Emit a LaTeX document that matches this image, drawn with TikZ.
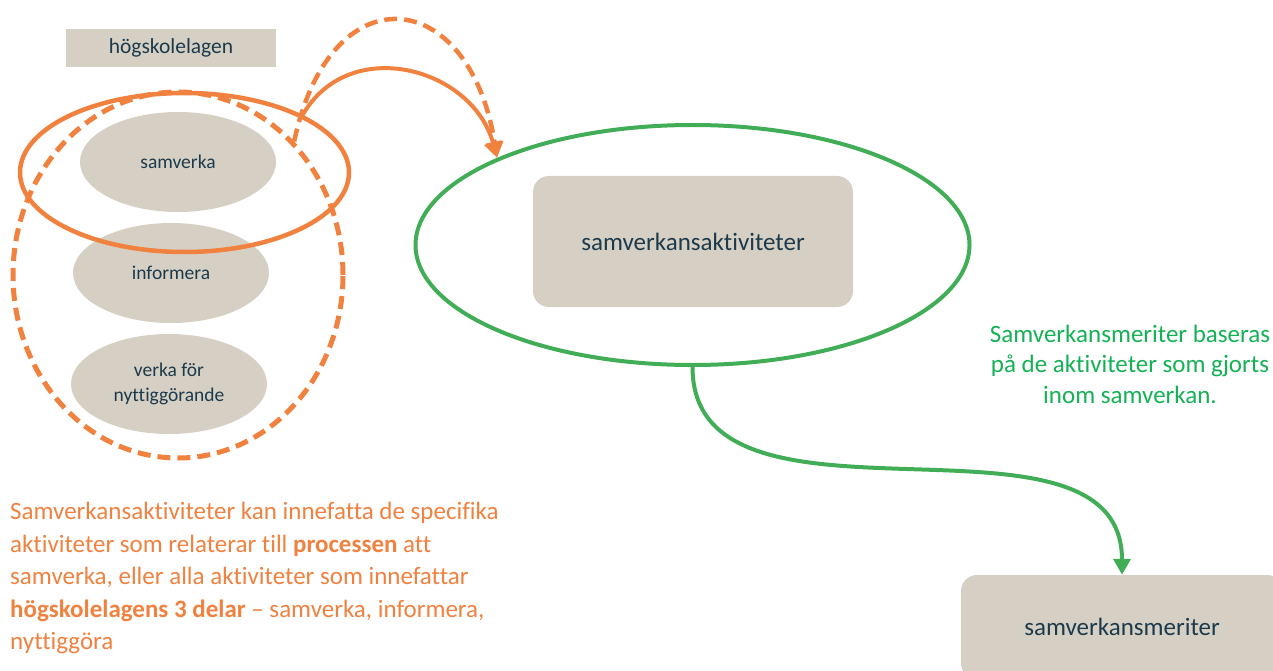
\documentclass[tikz,border=0pt]{standalone}
\usepackage{fontspec}
\setmainfont{Carlito}[Ligatures=NoCommon]
\usetikzlibrary{shapes.geometric,arrows.meta}
\definecolor{orng}{HTML}{F0813F}
\definecolor{grnline}{HTML}{41AD56}
\definecolor{grntext}{HTML}{14B155}
\definecolor{beige}{HTML}{D6D0C4}
\definecolor{darktext}{HTML}{1C3A4C}
\begin{document}
\begin{tikzpicture}[x=1pt, y=1pt, line join=round, >={Triangle[width=17pt,length=16pt]},
	boxfill/.style={fill=beige, text=darktext, inner sep=0pt},
	pill/.style={boxfill, ellipse, minimum width=196pt, minimum height=100pt, align=center, font=\fontsize{19.5}{24.5}\selectfont},
	ring/.style={draw=orng, ellipse, line width=4.5pt, inner sep=0pt},
	note/.style={inner sep=0pt, font=\fontsize{25}{30.5}\selectfont}]
	\useasboundingbox (0,0) rectangle (1273,-671);
	% högskolelagen, three parts
	\node[boxfill, minimum width=210pt, minimum height=38pt, font=\fontsize{21.5}{25}\selectfont] (hsl) at (171,-48) {högskolelagen};
	\node[pill] (samv) at (178,-162) {samverka};
	\node[pill] (info) at (171,-273) {informera};
	\node[pill] (nytt) at (169,-384) {verka för\\nyttiggörande};
	\node[ring, minimum width=329pt, minimum height=159pt] (solidring) at (184.5,-172.5) {};
	\node[ring, line width=5pt, dash pattern=on 13pt off 7pt, minimum width=330pt, minimum height=366pt] (dashring) at (178,-275) {};
	% activities and merits
	\node[draw=grnline, line width=4pt, ellipse, minimum width=554pt, minimum height=240pt] (greenring) at (692.5,-245) {};
	\node[boxfill, rounded corners=16pt, minimum width=320pt, minimum height=131pt, font=\fontsize{25}{30}\selectfont] (akt) at (693,-241.5) {samverkansaktiviteter};
	\node[boxfill, rounded corners=16pt, minimum width=322pt, minimum height=104pt, font=\fontsize{25}{30}\selectfont] (merit) at (1122,-627) {samverkansmeriter};
	% arrows
	\draw[orng, line width=4pt, ->] (solidring.26) to[out=60, in=105, looseness=1.2] (greenring.156);
	\draw[orng, line width=4.5pt, dash pattern=on 13pt off 7pt, ->] (dashring.49) to[out=78, in=99, looseness=2.2] (greenring.156);
	\draw[grnline, line width=4pt, ->] (greenring.south) to[out=-90, in=90] (merit.north);
	% notes
	\node[note, text=grntext, align=center] (greentext) at (1130,-364) {Samverkansmeriter baseras\\på de aktiviteter som gjorts\\inom samverkan.};
	\node[note, text=orng, align=left, anchor=north west, font=\fontsize{25}{32.5}\selectfont] (orangetext) at (10,-502) {Samverkansaktiviteter kan innefatta de specifika\\aktiviteter som relaterar till \textbf{processen} att\\samverka, eller alla aktiviteter som innefattar\\\textbf{högskolelagens 3 delar} – samverka, informera,\\nyttiggöra};
\end{tikzpicture}
\end{document}
